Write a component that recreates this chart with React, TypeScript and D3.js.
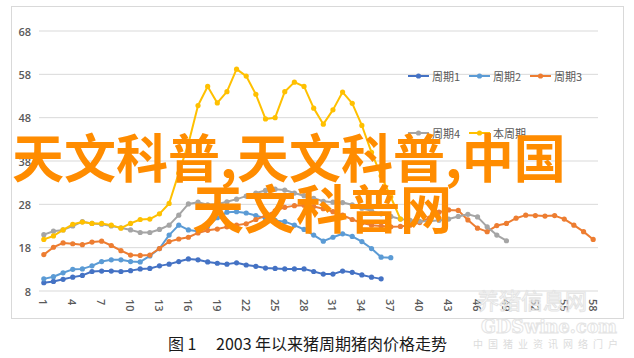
import React from 'react';
import * as d3 from 'd3';

const categories = [
  1, 2, 3, 4, 5, 6, 7, 8, 9, 10, 11, 12, 13, 14, 15, 16, 17, 18, 19, 20,
  21, 22, 23, 24, 25, 26, 27, 28, 29, 30, 31, 32, 33, 34, 35, 36, 37, 38, 39, 40,
  41, 42, 43, 44, 45, 46, 47, 48, 49, 50, 51, 52, 53, 54, 55, 56, 57, 58,
];
const xTickLabels = [1, 4, 7, 10, 13, 16, 19, 22, 25, 28, 31, 34, 37, 40, 43, 46, 49, 52, 55, 58];
const yTicks = [8, 18, 28, 38, 48, 58, 68];

const seriesNames = ['周期1', '周期2', '周期3', '周期4', '本周期'];
const seriesColors = ['#4472C4', '#5B9BD5', '#ED7D31', '#A5A5A5', '#FFC000'];

const cycle1 = [
  9.9, 10.2, 10.7, 11.2, 11.6, 12.5, 12.6, 12.6, 12.5, 12.7, 13.1, 13.2, 13.8, 14.2, 14.8, 15.4, 15.2,
  14.7, 14.4, 14.2, 14.5, 14.0, 13.7, 13.3, 13.2, 13.1, 13.1, 13.1, 12.5, 11.9, 11.9, 12.6, 12.3, 11.7,
  11.2, 10.8,
];
const cycle2 = [
  10.8, 11.3, 12.2, 13.0, 13.1, 13.8, 14.8, 15.2, 15.2, 14.8, 14.7, 16.1, 17.8, 20.9, 23.2, 22.1, 21.8,
  23.0, 24.9, 26.2, 26.3, 26.0, 25.4, 24.8, 24.3, 24.0, 23.2, 22.2, 20.9, 19.5, 20.4, 21.2, 20.6, 19.4,
  17.8, 15.8, 15.7,
];
const cycle3 = [
  16.4, 18.1, 19.1, 18.9, 18.7, 19.3, 19.5, 18.5, 17.3, 16.3, 16.2, 16.3, 17.8, 19.4, 20.0, 20.4, 21.4,
  22.0, 22.3, 22.8, 23.2, 23.5, 24.5, 25.4, 26.5, 27.3, 27.7, 27.8, 27.5, 27.0, 26.3, 25.5, 24.5, 23.7,
  23.2, 23.0, 22.8, 22.9, 23.2, 23.8, 24.8, 26.2, 26.7, 26.6, 24.4, 22.5, 21.7, 23.1, 23.6, 24.8, 25.5,
  25.4, 25.3, 25.4, 24.6, 23.2, 21.7, 19.9,
];
const cycle4 = [
  21.0, 21.8, 22.1, 23.0, 24.0, 23.6, 23.4, 23.0, 22.6, 22.1, 21.5, 21.5, 22.2, 23.2, 25.5, 28.1, 28.5,
  27.9, 28.0, 28.6, 29.2, 29.9, 30.6, 31.2, 31.5, 31.3, 30.6, 30.0, 29.4, 28.7, 28.5, 28.4, 27.9, 27.1,
  26.5, 25.8, 25.2, 24.6, 24.3, 24.1, 24.1, 24.3, 24.6, 25.2, 25.7, 25.1, 22.8, 20.9, 19.6,
];
const currentCycle = [
  19.9, 20.7, 22.1, 23.4, 23.9, 23.6, 23.6, 23.2, 22.5, 23.6, 24.5, 24.6, 25.8, 28.2, 35.2, 42.0, 50.8,
  55.2, 51.4, 54.0, 59.2, 57.6, 53.4, 47.7, 48.0, 54.0, 56.2, 55.2, 50.2, 46.5, 49.8, 53.9, 51.3, 46.2,
  40.0, 34.6, 29.7, 24.6,
];
const allSeries = [cycle1, cycle2, cycle3, cycle4, currentCycle];

const titleFig = '图 1';
const titleText = '2003 年以来猪周期猪肉价格走势';
const watermarkLine1 = '天文科普,天文科普,中国';
const watermarkLine2 = '天文科普网';

export default function App() {
  const W = 634;
  const H = 358;
  const left = 39;
  const right = 598;
  const top = 31;
  const bottom = 291;

  const x = d3.scalePoint<number>().domain(categories).range([left, right]).padding(0.5);
  const y = d3.scaleLinear().domain([8, 68]).range([bottom, top]);
  const line = d3
    .line<number>()
    .x((_, i) => x(categories[i]) as number)
    .y((d) => y(d));

  const axisFont = "'Open Sans', 'Noto Sans', sans-serif";
  const cjk = "'Noto Sans CJK SC', 'Noto Sans', sans-serif";

  const legendItems = [
    { x: 408, y: 76 },
    { x: 469, y: 76 },
    { x: 530, y: 76 },
    { x: 408, y: 133 },
    { x: 469, y: 133 },
  ];

  return (
    <svg
      width={W}
      height={H}
      viewBox={`0 0 ${W} ${H}`}
      style={{ position: 'absolute', left: 0, top: 0, background: '#fff' }}
    >
      <rect x={0} y={0} width={W} height={H} fill="#fff" />
      <rect x={11.5} y={6.5} width={612} height={312} fill="none" stroke="#d9d9d9" strokeWidth={1} />

      {yTicks.map((t) => (
        <g key={t}>
          <line x1={left} x2={right} y1={y(t)} y2={y(t)} stroke="#d9d9d9" strokeWidth={1} />
          <text
            x={31}
            y={y(t)}
            textAnchor="end"
            dominantBaseline="central"
            fontFamily={axisFont}
            fontSize={11}
            fontWeight={600}
            fill="#595959"
          >
            {t}
          </text>
        </g>
      ))}

      {xTickLabels.map((t) => (
        <text
          key={t}
          transform={`translate(${x(t)},299) rotate(90)`}
          textAnchor="start"
          dominantBaseline="central"
          fontFamily={axisFont}
          fontSize={11}
          fontWeight={600}
          fill="#595959"
        >
          {t}
        </text>
      ))}

      {allSeries.map((s, si) => (
        <g key={si}>
          <path d={line(s) || ''} fill="none" stroke={seriesColors[si]} strokeWidth={2} strokeLinejoin="round" />
          {s.map((v, i) => (
            <circle key={i} cx={x(categories[i])} cy={y(v)} r={2.6} fill={seriesColors[si]} />
          ))}
        </g>
      ))}

      {seriesNames.map((name, i) => {
        const p = legendItems[i];
        return (
          <g key={name}>
            <line x1={p.x} x2={p.x + 21} y1={p.y} y2={p.y} stroke={seriesColors[i]} strokeWidth={2} />
            <circle cx={p.x + 10.5} cy={p.y} r={2.6} fill={seriesColors[i]} />
            <text
              x={p.x + 24}
              y={p.y}
              dominantBaseline="central"
              fontFamily={cjk}
              fontSize={11}
              fill="#595959"
            >
              {name}
            </text>
          </g>
        );
      })}

      {/* faint site watermark */}
      <text x={477} y={309} fontFamily={cjk} fontSize={22} fill="none" stroke="#e4e4e4" strokeWidth={1}>
        养猪信息网
      </text>
      <text
        x={481}
        y={333}
        fontFamily="'DejaVu Serif', serif"
        fontSize={18}
        fontWeight={700}
        textLength={136}
        lengthAdjust="spacingAndGlyphs"
        fill="none"
        stroke="#e4e4e4"
        strokeWidth={1}
      >
        GDSwine.com
      </text>
      <text x={473} y={348} fontFamily={cjk} fontSize={10} letterSpacing={5} fill="#dcdcdc">
        中国猪业资讯网络门户
      </text>

      <text x={168} y={350} fontFamily={cjk} fontSize={16} fill="#1a1a1a">
        {titleFig}
      </text>
      <text x={216} y={350} fontFamily={cjk} fontSize={16} fill="#1a1a1a">
        {titleText}
      </text>

      <text x={12} y={178} fontFamily={cjk} fontSize={52} fontWeight={700} fill="#FF8C00">
        {watermarkLine1}
      </text>
      <text x={192} y={229} fontFamily={cjk} fontSize={52} fontWeight={700} fill="#FF8C00">
        {watermarkLine2}
      </text>
    </svg>
  );
}
